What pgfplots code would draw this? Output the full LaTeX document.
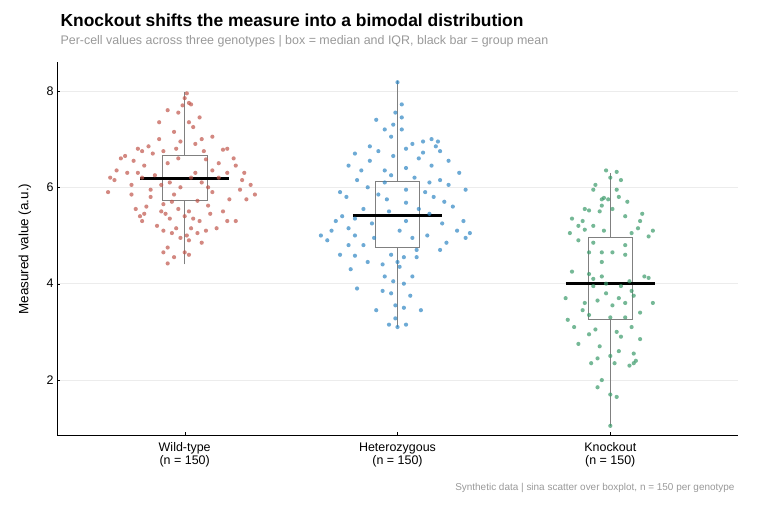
\documentclass[border=0pt]{standalone}
\usepackage{pgfplots}
\pgfplotsset{compat=1.18}
\usepackage{fontspec}
\setmainfont{Liberation Sans}
\definecolor{cwt}{HTML}{C0564B}
\definecolor{chet}{HTML}{2F86C3}
\definecolor{cko}{HTML}{3A9A6A}
\begin{document}
\begin{tikzpicture}
\path[use as bounding box] (-57bp,-71bp) rectangle (703bp,435bp);
\node[anchor=base west,font=\fontsize{17.5}{20}\selectfont\bfseries] at (0bp,408bp) {Knockout shifts the measure into a bimodal distribution};
\node[anchor=base west,font=\fontsize{12.5}{14}\selectfont,text=gray!80] at (0bp,390bp) {Per-cell values across three genotypes | box = median and IQR, black bar = group mean};
\node[anchor=base east,font=\fontsize{10}{12}\selectfont,text=gray!80] at (681bp,-55bp) {Synthetic data | sina scatter over boxplot, n = 150 per genotype};
\begin{axis}[at={(0,0)},anchor=south west,scale only axis,width=681bp,height=373bp,
 xmin=-0.6,xmax=2.6,ymin=0.86,ymax=8.6,
 axis x line*=bottom, axis y line*=left, axis line style={black,line width=0.8pt},
 xtick={0,1,2},xticklabels={{Wild-type\\(n = 150)},{Heterozygous\\(n = 150)},{Knockout\\(n = 150)}},
 xticklabel style={align=center,font=\fontsize{12.5}{13}\selectfont,yshift=-4bp},
 ytick={2,4,6,8},yticklabel style={font=\fontsize{12.5}{13}\selectfont},
 /pgf/number format/assume math mode=true,
 ymajorgrids, grid style={gray!15,line width=0.6pt},
 tick style={black}, major tick length=3bp,
 ylabel={Measured value (a.u.)},
 every axis y label/.style={at={(-32bp,186bp)},rotate=90,anchor=center,font=\fontsize{13.5}{15}\selectfont},
 clip=false,
]
\pgfplotsset{pts/.style={only marks,mark=*,mark size=2.1pt,#1,fill opacity=0.7,draw opacity=0}}
\addplot[pts=cwt] coordinates {
(0.01,7.95)(0.0,7.85)(0.02,7.75)(-0.01,7.7)(0.03,7.72)(-0.08,7.6)(-0.03,7.55)(0.07,7.45)(0.02,7.35)(-0.12,7.35)(0.04,7.25)(-0.05,7.15)(0.13,7.05)(-0.12,7.0)(0.08,7.0)(-0.02,6.95)(0.05,6.9)(-0.17,6.85)(-0.22,6.8)(0.18,6.78)(-0.2,6.75)(0.2,6.8)(-0.1,6.75)(-0.04,6.8)(0.09,6.75)(-0.15,6.7)(0.23,6.6)(-0.28,6.65)(-0.3,6.6)(-0.03,6.6)(0.1,6.58)(-0.24,6.55)(0.16,6.5)(0.24,6.45)(-0.19,6.45)(-0.08,6.5)(-0.32,6.35)(-0.27,6.3)(0.13,6.35)(0.28,6.3)(-0.35,6.2)(-0.22,6.3)(0.2,6.3)(0.16,6.2)(0.27,6.15)(-0.14,6.25)(0.05,6.3)(-0.2,6.2)(-0.33,6.15)(-0.25,6.05)(0.31,6.05)(-0.07,6.1)(0.08,6.1)(0.11,6.0)(-0.11,6.05)(-0.02,6.0)(0.03,6.2)(0.26,5.95)(-0.36,5.9)(0.33,5.85)(-0.16,5.95)(-0.05,5.85)(0.13,5.9)(-0.25,5.85)(-0.16,5.8)(0.21,5.75)(0.29,5.75)(-0.06,5.7)(0.06,5.72)(-0.18,5.6)(-0.1,5.65)(0.11,5.62)(-0.03,5.55)(0.18,5.5)(-0.23,5.55)(-0.11,5.5)(0.02,5.5)(-0.09,5.45)(0.0,5.4)(-0.21,5.4)(-0.19,5.45)(0.12,5.45)(0.04,5.35)(0.2,5.3)(0.07,5.3)(-0.2,5.3)(-0.07,5.35)(-0.13,5.2)(0.15,5.15)(0.03,5.15)(0.1,5.1)(-0.04,5.15)(0.24,5.3)(-0.1,5.1)(0.01,5.0)(-0.06,5.05)(0.06,5.05)(-0.02,4.95)(0.02,4.9)(0.08,4.85)(-0.08,4.75)(0.0,4.65)(-0.1,4.65)(-0.05,4.55)(-0.08,4.42)(0.02,4.6)
};
\addplot[pts=chet] table[x expr=\thisrowno{0}+1,y index=1,row sep=\\] {
0.0 8.18\\ 0.02 7.72\\ -0.01 7.55\\ 0.02 7.45\\ -0.1 7.4\\ -0.02 7.3\\ -0.06 7.2\\ 0.02 7.2\\ -0.03 7.05\\ 0.16 7.0\\ 0.12 6.95\\ 0.19 6.95\\ 0.07 6.9\\ 0.18 6.85\\ -0.13 6.85\\ 0.04 6.8\\ -0.09 6.75\\ 0.12 6.72\\ 0.2 6.75\\ -0.2 6.7\\ -0.02 6.65\\ 0.1 6.6\\ -0.13 6.55\\ 0.24 6.55\\ 0.16 6.45\\ -0.23 6.45\\ -0.17 6.35\\ -0.06 6.35\\ 0.04 6.4\\ 0.29 6.3\\ -0.03 6.25\\ 0.08 6.2\\ 0.2 6.15\\ -0.19 6.15\\ -0.06 6.1\\ 0.15 6.1\\ 0.24 6.05\\ -0.14 6.0\\ 0.04 5.95\\ 0.32 5.95\\ -0.27 5.9\\ 0.13 5.9\\ -0.09 5.85\\ 0.17 5.8\\ -0.24 5.8\\ -0.05 5.75\\ 0.22 5.7\\ 0.04 5.68\\ 0.26 5.6\\ -0.16 5.55\\ 0.1 5.55\\ -0.04 5.5\\ 0.15 5.45\\ -0.26 5.4\\ -0.2 5.35\\ 0.31 5.3\\ 0.04 5.3\\ -0.29 5.3\\ -0.12 5.25\\ 0.21 5.25\\ -0.31 5.1\\ -0.23 5.15\\ 0.28 5.1\\ 0.01 5.1\\ 0.34 5.05\\ -0.36 5.0\\ -0.2 5.0\\ 0.14 5.0\\ -0.11 4.95\\ 0.07 4.95\\ 0.32 4.95\\ -0.33 4.9\\ 0.23 4.85\\ -0.23 4.8\\ 0.09 4.7\\ -0.16 4.8\\ 0.2 4.7\\ -0.27 4.6\\ -0.2 4.58\\ -0.14 4.45\\ 0.03 4.55\\ 0.09 4.55\\ -0.03 4.6\\ -0.07 4.4\\ -0.22 4.3\\ 0.0 4.45\\ 0.01 4.35\\ 0.07 4.15\\ -0.06 4.15\\ -0.02 4.05\\ 0.03 4.0\\ -0.19 3.9\\ -0.07 3.85\\ -0.03 3.8\\ 0.06 3.75\\ -0.01 3.55\\ -0.1 3.45\\ 0.03 3.5\\ 0.11 3.45\\ -0.01 3.28\\ 0.04 3.15\\ -0.04 3.15\\ 0.0 3.1\\
};
\addplot[pts=cko] table[x expr=\thisrowno{0}+2,y index=1,row sep=\\] {
-0.02 6.35\\ 0.03 6.32\\ 0.0 6.2\\ 0.05 6.15\\ -0.07 6.05\\ -0.08 5.95\\ 0.03 5.95\\ -0.03 5.78\\ 0.04 5.8\\ -0.04 5.75\\ -0.01 5.75\\ -0.04 5.62\\ 0.08 5.7\\ -0.12 5.55\\ -0.1 5.52\\ -0.05 5.5\\ 0.01 5.55\\ 0.15 5.45\\ 0.07 5.4\\ -0.18 5.35\\ -0.13 5.3\\ 0.14 5.3\\ -0.15 5.2\\ -0.08 5.2\\ 0.13 5.15\\ -0.12 5.12\\ 0.2 5.1\\ -0.03 5.1\\ -0.19 5.05\\ 0.1 5.05\\ 0.18 4.98\\ -0.15 4.9\\ -0.08 4.85\\ 0.07 4.8\\ -0.1 4.65\\ -0.04 4.65\\ 0.01 4.65\\ 0.07 4.6\\ -0.04 4.45\\ -0.18 4.25\\ -0.1 4.2\\ -0.04 4.15\\ 0.16 4.15\\ 0.18 4.12\\ -0.08 4.1\\ 0.09 4.05\\ -0.02 4.0\\ 0.05 3.95\\ -0.08 3.95\\ 0.1 3.85\\ -0.21 3.7\\ -0.12 3.6\\ -0.02 3.8\\ 0.04 3.7\\ 0.11 3.75\\ -0.06 3.65\\ 0.07 3.6\\ 0.01 3.55\\ -0.13 3.45\\ 0.2 3.6\\ -0.1 3.35\\ 0.14 3.4\\ -0.2 3.25\\ 0.0 3.3\\ 0.07 3.3\\ -0.17 3.1\\ -0.07 3.05\\ 0.1 3.1\\ 0.03 3.0\\ -0.1 2.95\\ 0.05 2.9\\ 0.14 2.85\\ -0.15 2.75\\ -0.05 2.7\\ 0.04 2.6\\ 0.11 2.55\\ 0.0 2.5\\ -0.06 2.45\\ 0.12 2.4\\ 0.02 2.35\\ -0.09 2.35\\ 0.09 2.3\\ 0.11 2.35\\ -0.04 2.0\\ -0.06 1.85\\ 0.0 1.7\\ 0.03 1.65\\ 0.0 1.05\\
};
% whiskers
\addplot[gray,line width=0.8pt] coordinates {(0,4.4)(0,5.72)};
\addplot[gray,line width=0.8pt] coordinates {(0,6.66)(0,7.97)};
\addplot[gray,line width=0.8pt] coordinates {(1,3.1)(1,4.75)};
\addplot[gray,line width=0.8pt] coordinates {(1,6.12)(1,8.2)};
\addplot[gray,line width=0.8pt] coordinates {(2,1.05)(2,3.25)};
\addplot[gray,line width=0.8pt] coordinates {(2,4.95)(2,6.3)};
% boxes
\addplot[gray,line width=0.8pt] coordinates {(-0.105,5.72)(0.105,5.72)(0.105,6.66)(-0.105,6.66)(-0.105,5.72)};
\addplot[gray,line width=0.8pt] coordinates {(-0.105,6.2)(0.105,6.2)};
\addplot[gray,line width=0.8pt] coordinates {(0.895,4.75)(1.105,4.75)(1.105,6.12)(0.895,6.12)(0.895,4.75)};
\addplot[gray,line width=0.8pt] coordinates {(0.895,5.42)(1.105,5.42)};
\addplot[gray,line width=0.8pt] coordinates {(1.895,3.25)(2.105,3.25)(2.105,4.95)(1.895,4.95)(1.895,3.25)};
\addplot[gray,line width=0.8pt] coordinates {(1.895,3.98)(2.105,3.98)};
% means
\addplot[black,line width=2.6pt] coordinates {(-0.21,6.18)(0.21,6.18)};
\addplot[black,line width=2.6pt] coordinates {(0.79,5.42)(1.21,5.42)};
\addplot[black,line width=2.6pt] coordinates {(1.79,4.0)(2.21,4.0)};
\end{axis}
\end{tikzpicture}
\end{document}
